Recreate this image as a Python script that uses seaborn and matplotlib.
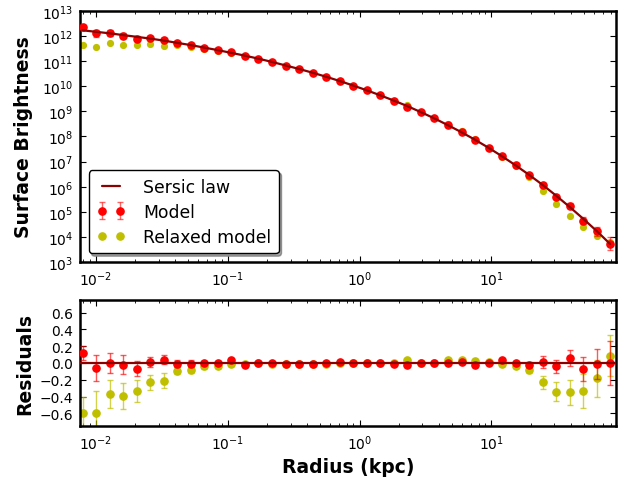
import numpy as np
import matplotlib
matplotlib.use("Agg")
import matplotlib.pyplot as plt
import seaborn as sns
from matplotlib.lines import Line2D
from matplotlib.ticker import LogLocator, NullLocator, MultipleLocator

# ---------------- data ----------------
radius_kpc = [0.00794, 0.01006, 0.01274, 0.01614, 0.02044, 0.02589, 0.03279, 0.04153,
              0.05260, 0.06662, 0.08437, 0.1069, 0.1353, 0.1714, 0.2171, 0.2750,
              0.3483, 0.4411, 0.5587, 0.7076, 0.8962, 1.135, 1.438, 1.821,
              2.306, 2.921, 3.699, 4.685, 5.934, 7.516, 9.519, 12.06,
              15.27, 19.34, 24.49, 31.02, 39.29, 49.76, 63.03, 79.43]

# log10 of the Sersic-law surface brightness at each radius
sersic_log = [12.23, 12.17, 12.11, 12.04, 11.97, 11.90, 11.82, 11.73, 11.64, 11.54,
              11.44, 11.33, 11.22, 11.10, 10.97, 10.83, 10.69, 10.54, 10.38, 10.21,
              10.03, 9.84, 9.64, 9.43, 9.21, 8.97, 8.72, 8.45, 8.17, 7.87,
              7.55, 7.21, 6.85, 6.47, 6.07, 5.64, 5.19, 4.72, 4.23, 3.72]

# residuals (dex) of the model and of the relaxed model with respect to the Sersic law
model_res = [0.12, -0.06, 0.00, -0.02, -0.07, 0.01, 0.04, -0.01, -0.01, 0.00,
             0.00, 0.03, -0.02, 0.00, 0.00, -0.01, -0.01, -0.01, 0.00, 0.01,
             0.00, 0.00, 0.00, -0.01, -0.02, 0.00, 0.00, 0.00, 0.01, -0.02,
             0.00, 0.03, 0.00, -0.02, 0.01, -0.04, 0.06, -0.07, -0.01, 0.00]
model_err = [0.08, 0.15, 0.12, 0.11, 0.09, 0.06, 0.055, 0.04, 0.04, 0.02,
             0.02, 0.02, 0.015, 0.015, 0.01, 0.01, 0.01, 0.01, 0.01, 0.01,
             0.01, 0.01, 0.01, 0.01, 0.01, 0.01, 0.01, 0.01, 0.01, 0.015,
             0.015, 0.02, 0.02, 0.03, 0.07, 0.075, 0.095, 0.14, 0.18, 0.26]

relaxed_res = [-0.60, -0.60, -0.37, -0.39, -0.33, -0.23, -0.21, -0.09, -0.08, -0.04,
               -0.035, -0.01, -0.01, 0.00, -0.01, -0.01, -0.01, -0.01, -0.01, 0.00,
               0.00, 0.00, 0.00, 0.00, 0.035, 0.005, 0.005, 0.035, 0.035, 0.02,
               0.01, -0.01, -0.04, -0.085, -0.23, -0.34, -0.35, -0.33, -0.18, 0.088]
relaxed_err = [0.19, 0.27, 0.17, 0.155, 0.13, 0.09, 0.085, 0.045, 0.045, 0.03,
               0.03, 0.02, 0.02, 0.02, 0.015, 0.015, 0.015, 0.015, 0.015, 0.015,
               0.015, 0.015, 0.015, 0.015, 0.015, 0.015, 0.015, 0.015, 0.015, 0.015,
               0.015, 0.02, 0.02, 0.03, 0.075, 0.115, 0.148, 0.2, 0.22, 0.245]

labels = ["Sersic law", "Model", "Relaxed model"]

# ---------------- derived table ----------------
r = np.array(radius_kpc)
s_log = np.array(sersic_log)
m_res = np.array(model_res)
m_err = np.array(model_err)
x_res = np.array(relaxed_res)
x_err = np.array(relaxed_err)

sersic_sb = 10 ** s_log
model_sb = 10 ** (s_log + m_res)
relaxed_sb = 10 ** (s_log + x_res)
model_yerr = np.vstack([model_sb * (1 - 10 ** (-m_err)), model_sb * (10 ** m_err - 1)])

# ---------------- style ----------------
sns.set_style("white", rc={
    "xtick.direction": "in", "ytick.direction": "in",
    "xtick.top": True, "ytick.right": True,
    "xtick.bottom": True, "ytick.left": True,
    "axes.edgecolor": "black", "axes.linewidth": 1.8,
    "text.color": "black", "axes.labelcolor": "black",
    "xtick.color": "black", "ytick.color": "black",
})
plt.rcParams["font.family"] = ["DejaVu Sans"]
plt.rcParams["mathtext.default"] = "regular"

RED = "#ff0000"
YEL = "#bfbf00"
LINE = "#8b0000"
MS = 5.2

fig = plt.figure(figsize=(6.33, 4.85), dpi=100)
ax1 = fig.add_axes([0.1264, 0.4577, 0.8467, 0.5176])
ax2 = fig.add_axes([0.1264, 0.1196, 0.8467, 0.2598])

# ---- top panel ----
sns.lineplot(x=r, y=sersic_sb, ax=ax1, color=LINE, lw=1.6, zorder=5, legend=False)
eb = ax1.errorbar(r, model_sb, yerr=model_yerr, fmt="o", color=RED, ms=MS, mec=RED,
                  ecolor=(1, 0, 0, 0.6), capsize=2.5, elinewidth=1, zorder=3)
sns.scatterplot(x=r, y=relaxed_sb, ax=ax1, color=YEL, s=MS ** 2, edgecolor=YEL,
                linewidth=0, zorder=2, legend=False)
ax1.set_xscale("log")
ax1.set_yscale("log")
ax1.set_xlim(0.0076, 88)
ax1.set_ylim(1e3, 1e13)
ax1.yaxis.set_major_locator(LogLocator(base=10, numticks=20))
ax1.yaxis.set_minor_locator(NullLocator())
ax1.set_ylabel("Surface Brightness", fontsize=13.5, fontweight="bold", labelpad=6)

h_line = Line2D([], [], color=LINE, lw=1.6)
h_rel = Line2D([], [], ls="", marker="o", color=YEL, mec=YEL, ms=MS)
leg = ax1.legend([h_line, eb, h_rel], labels, loc="lower left",
                 numpoints=2, fontsize=12.4, frameon=True, fancybox=True,
                 shadow=True, handlelength=1.7, handletextpad=1.0, borderaxespad=0.5,
                 labelspacing=0.4, borderpad=0.45)
leg.get_frame().set_edgecolor("black")
leg.get_frame().set_linewidth(1.0)
leg.get_frame().set_alpha(1)

# ---- bottom panel ----
ax2.errorbar(r, x_res, yerr=x_err, fmt="o", color=YEL, ms=MS, mec=YEL,
             ecolor=(0.75, 0.75, 0.0, 0.7), capsize=2.5, elinewidth=1, zorder=2)
ax2.errorbar(r, m_res, yerr=m_err, fmt="o", color=RED, ms=MS, mec=RED,
             ecolor=(1, 0, 0, 0.65), capsize=2.5, elinewidth=1, zorder=3)
ax2.axhline(0, color=LINE, lw=1.6, zorder=5)
ax2.set_xscale("log")
ax2.set_xlim(0.0076, 88)
ax2.set_ylim(-0.75, 0.75)
ax2.yaxis.set_major_locator(MultipleLocator(0.2))
ax2.yaxis.set_minor_locator(NullLocator())
ax2.set_ylabel("Residuals", fontsize=13.5, fontweight="bold", labelpad=4)
ax2.set_xlabel("Radius (kpc)", fontsize=13.5, fontweight="bold")

for ax in (ax1, ax2):
    ax.tick_params(which="major", length=4, width=0.8, labelsize=10, pad=5)
    ax.tick_params(which="minor", length=2, width=0.6)
    ax.xaxis.set_minor_locator(LogLocator(base=10, subs=np.arange(2, 10), numticks=20))
    for sp in ax.spines.values():
        sp.set_linewidth(1.8)

fig.savefig("out.png", dpi=100)
